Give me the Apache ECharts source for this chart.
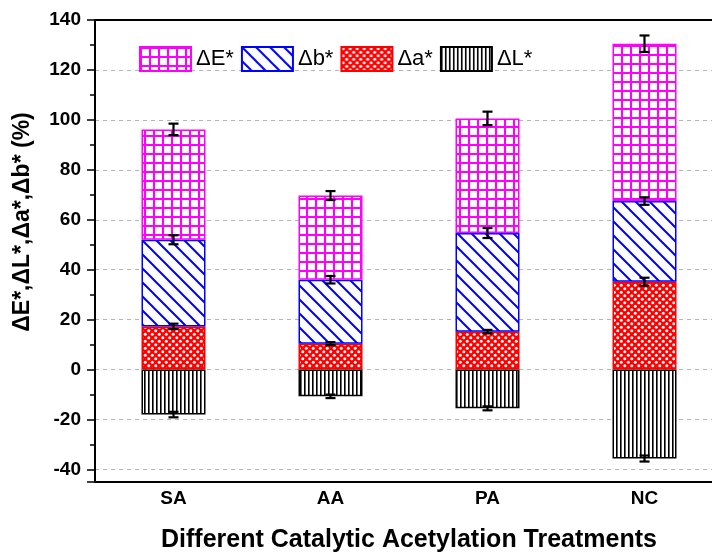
<!DOCTYPE html>
<html>
<head>
<meta charset="utf-8">
<script src="https://cdn.jsdelivr.net/npm/echarts@6/dist/echarts.min.js"></script>
<style>
  html, body { margin: 0; padding: 0; background: #fff; }
  #chart { width: 712px; height: 552px; }
</style>
</head>
<body>
<div id="chart"></div>
<script>
// Treatments on the x axis
const categories = ['SA', 'AA', 'PA', 'NC'];

// Colour-difference components (%) per treatment, one segment each
const dL = [-18.0, -10.7, -15.5, -35.6];
const da = [17.3, 10.4, 15.2, 35.2];
const db = [34.7, 25.6, 39.5, 32.3];
const dE = [44.2, 33.7, 45.9, 63.0];

// Standard deviations shown as error bars at each segment's outer end
const errL = [1.1, 0.7, 0.8, 1.2];
const errA = [1.1, 0.6, 0.7, 1.6];
const errB = [1.8, 1.5, 2.0, 1.5];
const errE = [2.3, 1.8, 2.7, 3.3];

const yTicks = { min: -45, max: 140, step: 20 };

const FONT = 'Liberation Sans, Arial, sans-serif';

function makePattern(w, h, draw) {
  const c = document.createElement('canvas');
  c.width = w; c.height = h;
  const ctx = c.getContext('2d');
  draw(ctx, w, h);
  return { image: c, repeat: 'repeat' };
}

// magenta square grid
const gridFill = makePattern(9, 9, (ctx, w, h) => {
  ctx.fillStyle = '#fff'; ctx.fillRect(0, 0, w, h);
  ctx.fillStyle = '#ff00ff';
  ctx.fillRect(0, 0, 2, h);
  ctx.fillRect(0, 0, w, 2);
});
// blue back-slash hatching
const hatchFill = makePattern(14, 14, (ctx, w, h) => {
  ctx.fillStyle = '#fff'; ctx.fillRect(0, 0, w, h);
  ctx.strokeStyle = '#0000ff'; ctx.lineWidth = 2;
  ctx.beginPath();
  ctx.moveTo(-2, -2); ctx.lineTo(w + 2, h + 2);
  ctx.moveTo(w - 2, -2); ctx.lineTo(w + 2, 2);
  ctx.moveTo(-2, h - 2); ctx.lineTo(2, h + 2);
  ctx.stroke();
});
// red field with white dots
const dotFill = makePattern(7, 7, (ctx, w, h) => {
  ctx.fillStyle = '#ff0000'; ctx.fillRect(0, 0, w, h);
  ctx.fillStyle = '#fff';
  ctx.beginPath(); ctx.arc(1.75, 1.75, 1.5, 0, Math.PI * 2); ctx.fill();
  ctx.beginPath(); ctx.arc(5.25, 5.25, 1.5, 0, Math.PI * 2); ctx.fill();
});
// black vertical stripes
const stripeFill = makePattern(4, 4, (ctx, w, h) => {
  ctx.fillStyle = '#fff'; ctx.fillRect(0, 0, w, h);
  ctx.fillStyle = '#000';
  ctx.fillRect(0, 0, 1.6, h);
});

// cumulative tops for the positive stack
const topA = da.slice();
const topB = da.map((v, i) => v + db[i]);
const topE = topB.map((v, i) => v + dE[i]);

const errData = [];
categories.forEach((c, i) => {
  errData.push([i, dL[i], errL[i]]);
  errData.push([i, topA[i], errA[i]]);
  errData.push([i, topB[i], errB[i]]);
  errData.push([i, topE[i], errE[i]]);
});

function barSeries(name, data, fill, border) {
  return {
    name, type: 'bar', stack: 'total', data,
    barWidth: 64,
    itemStyle: { color: fill, borderColor: border, borderWidth: 1.5 },
    emphasis: { disabled: true },
    animation: false
  };
}

const chart = echarts.init(document.getElementById('chart'), null, { renderer: 'canvas' });
chart.setOption({
  animation: false,
  textStyle: { fontFamily: FONT },
  grid: { left: 95, top: 20, bottom: 70, right: -11, containLabel: false, outerBoundsMode: 'none' },
  legend: {
    data: ['ΔE*', 'Δb*', 'Δa*', 'ΔL*'],
    left: 139, top: 46, padding: 0,
    itemWidth: 51, itemHeight: 24, itemGap: 7,
    icon: 'rect',
    textStyle: { fontSize: 22, color: '#000', fontFamily: FONT, width: 41 },
    selectedMode: false
  },
  xAxis: [{
    type: 'category', data: categories,
    axisLine: { onZero: false, lineStyle: { color: '#000', width: 2 } },
    axisTick: { inside: true, alignWithLabel: true, length: 8, lineStyle: { color: '#000', width: 1.5 } },
    axisLabel: { fontSize: 19, fontWeight: 'bold', color: '#000', margin: 7 },
    name: 'Different Catalytic Acetylation Treatments',
    nameLocation: 'middle', nameGap: 46,
    nameTextStyle: { fontSize: 25, fontWeight: 'bold', color: '#000' }
  }, {
    type: 'category', data: categories, position: 'top',
    axisLine: { onZero: false, lineStyle: { color: '#000', width: 2 } },
    axisTick: { show: false }, axisLabel: { show: false }
  }],
  yAxis: {
    type: 'value', min: yTicks.min, max: yTicks.max,
    minInterval: yTicks.step, maxInterval: yTicks.step,
    axisLine: { show: true, lineStyle: { color: '#000', width: 2 } },
    axisTick: { show: true, length: 8, lineStyle: { color: '#000', width: 1.5 } },
    minorTick: { show: true, splitNumber: 2, length: 5, lineStyle: { color: '#000', width: 1.5 } },
    axisLabel: { fontSize: 19, fontWeight: 'bold', color: '#000', margin: 14, showMinLabel: false,
      formatter: v => (v % yTicks.step === 0 ? String(v) : '') },
    splitLine: { show: true, lineStyle: { color: '#b4b4b4', type: [4, 4], width: 1 } }
  },
  graphic: [{
    type: 'text', x: 23, y: 222, rotation: Math.PI / 2,
    style: { text: 'ΔE*,ΔL*,Δa*,Δb* (%)', font: 'bold 23px ' + FONT, fill: '#000',
      textAlign: 'center', textVerticalAlign: 'middle' }
  }],
  series: [
    barSeries('ΔL*', dL, stripeFill, '#000'),
    barSeries('Δa*', da, dotFill, '#ff0000'),
    barSeries('Δb*', db, hatchFill, '#0000ff'),
    barSeries('ΔE*', dE, gridFill, '#ff00ff'),
    {
      type: 'custom', name: 'err', data: errData, z: 10,
      renderItem(params, api) {
        const x = api.value(0), y = api.value(1), e = api.value(2);
        const hi = api.coord([x, y + e]);
        const lo = api.coord([x, y - e]);
        const cap = 5;
        const style = { stroke: '#000', lineWidth: 2.2, fill: null };
        return {
          type: 'group', children: [
            { type: 'line', shape: { x1: hi[0], y1: hi[1], x2: lo[0], y2: lo[1] }, style },
            { type: 'line', shape: { x1: hi[0] - cap, y1: hi[1], x2: hi[0] + cap, y2: hi[1] }, style },
            { type: 'line', shape: { x1: lo[0] - cap, y1: lo[1], x2: lo[0] + cap, y2: lo[1] }, style }
          ]
        };
      },
      animation: false, silent: true
    }
  ]
});
</script>
</body>
</html>
